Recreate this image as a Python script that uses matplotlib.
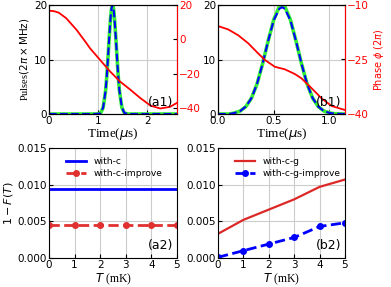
import matplotlib
matplotlib.use("Agg")
import matplotlib.pyplot as plt

plt.rcParams["font.size"] = 7.5
plt.rcParams["font.serif"] = ["Liberation Serif", "DejaVu Serif"]
plt.rcParams["mathtext.fontset"] = "dejavusans"

# (a1) pulse (left axis) and phase (right axis)
a1_t = [0, 0.9, 1.0, 1.05, 1.1, 1.15, 1.175, 1.2, 1.22, 1.25, 1.27, 1.29,
        1.31, 1.33, 1.36, 1.38, 1.405, 1.43, 1.48, 1.53, 1.6, 2.6]
a1_pulse = [0, 0, 0.03, 0.2, 1.2, 4.3, 7.1, 10.6, 13.6, 17.6, 19.4, 20,
            19.4, 17.6, 13.6, 10.6, 7.1, 4.3, 1.2, 0.2, 0, 0]
a1_phase_t = [0, 0.1, 0.2, 0.35, 0.56, 0.76, 0.83, 1.035, 1.24, 1.44,
              1.65, 1.85, 2.06, 2.26, 2.46, 2.6]
a1_phase = [16.7, 16.4, 15.5, 12.3, 5.5, -2.2, -5.1, -11.9, -18.7, -24.5,
            -29.3, -34.1, -38.6, -40.3, -39.3, -37.0]

# (b1)
b1_t = [0, 0.1, 0.15, 0.2, 0.25, 0.3, 0.35, 0.4, 0.45, 0.5, 0.55, 0.575,
        0.6, 0.65, 0.7, 0.75, 0.8, 0.85, 0.9, 0.95, 1.0, 1.05, 1.14]
b1_target = [0, 0, 0.2, 0.55, 1.36, 2.9, 5.5, 9.2, 13.4, 17.3, 19.7, 20,
             19.7, 17.3, 13.4, 9.2, 5.5, 2.9, 1.36, 0.55, 0.2, 0.05, 0]
b1_pulse = [0, 0, 0.2, 0.55, 1.36, 2.9, 5.5, 9.2, 13.4, 17.2, 19.3, 19.6,
            19.3, 17.2, 13.4, 9.2, 5.5, 2.9, 1.36, 0.55, 0.2, 0.05, 0]
b1_phase_t = [0, 0.09, 0.18, 0.27, 0.36, 0.42, 0.51, 0.60, 0.69, 0.75,
              0.84, 0.93, 1.02, 1.14]
b1_phase = [-15.8, -16.7, -18.3, -20.5, -23.3, -25.1, -27.0, -27.7, -29.0,
            -30.2, -32.9, -35.7, -37.8, -38.9]

# (a2), (b2) infidelity vs temperature
temp = [0, 1, 2, 3, 4, 5]
a2_c = [0.0094, 0.0094, 0.0094, 0.0094, 0.0094, 0.0094]
a2_c_improve = [0.00455, 0.00455, 0.00455, 0.00455, 0.00455, 0.00455]
b2_cg = [0.0033, 0.0052, 0.0066, 0.0080, 0.0097, 0.0107]
b2_cg_improve = [0.0001, 0.0010, 0.0019, 0.0028, 0.0043, 0.0048]

W, H = 391, 287
fig = plt.figure(figsize=(W / 100, H / 100), dpi=100)


def box(x0, y0, x1, y1):
    return [x0 / W, 1 - y1 / H, (x1 - x0) / W, (y1 - y0) / H]


ax_a1 = fig.add_axes(box(49, 5, 177, 114))
ax_b1 = fig.add_axes(box(218, 5, 345, 114))
ax_a2 = fig.add_axes(box(49, 148, 177, 258))
ax_b2 = fig.add_axes(box(218, 148, 345, 258))

# --- top row ---
for ax, t, tgt, pul, pt, ph, xmax, rlim, rticks, lab in [
    (ax_a1, a1_t, a1_pulse, a1_pulse, a1_phase_t, a1_phase, 2.6, (-43.5, 20), [20, 0, -20, -40], "(a1)"),
    (ax_b1, b1_t, b1_target, b1_pulse, b1_phase_t, b1_phase, 1.14, (-40, -10), [-10, -25, -40], "(b1)"),
]:
    ax.grid(True, color="#cccccc", lw=0.8)
    ax.plot(t, tgt, color="#33ee33", lw=2.6)
    ax.plot(t, pul, color="#0000ff", lw=1.5, ls="--")
    ax.set_xlim(0, xmax)
    ax.set_ylim(0, 20)
    ax.set_yticks([0, 10, 20])
    ax.tick_params(direction="in", length=3, pad=1.5)
    ax.set_xlabel(r"Time($\mu$s)", family="serif", fontsize=9.5, labelpad=0)
    axr = ax.twinx()
    axr.plot(pt, ph, color="red", lw=1.3)
    axr.set_ylim(*rlim)
    axr.set_yticks(rticks)
    axr.tick_params(direction="in", length=3, labelcolor="red", pad=1.5)
    axr.spines["right"].set_color("red")
    axr.text(0.97, 0.05, lab, transform=axr.transAxes, ha="right", va="bottom", fontsize=9)

ax_b1.set_xticks([0, 0.5, 1.0])
ax_a1.set_xticks([0, 1, 2])
ax_a1.set_ylabel(r"Pulses$(2\pi\times\mathrm{MHz})$", family="serif", fontsize=7.5, labelpad=2)
fig.axes[-1].set_ylabel(r"Phase $\phi$ (2$\pi$)", color="red", fontsize=7, labelpad=2)

# --- bottom row ---
ax_a2.plot(temp, a2_c, color="#0000ff", lw=2, label="with-c")
ax_a2.plot(temp, a2_c_improve, color="#e03030", lw=2, ls="--", marker="o", ms=4,
           label="with-c-improve")
ax_b2.plot(temp, b2_cg, color="#dd2828", lw=1.6, label="with-c-g")
ax_b2.plot(temp, b2_cg_improve, color="#0000ff", lw=2, ls="--", marker="o", ms=4,
           label="with-c-g-improve")

for ax, lab in [(ax_a2, "(a2)"), (ax_b2, "(b2)")]:
    ax.grid(True, color="#cccccc", lw=0.8)
    ax.set_xlim(0, 5)
    ax.set_ylim(0, 0.015)
    ax.set_xticks(temp)
    ax.set_yticks([0, 0.005, 0.010, 0.015])
    ax.set_yticklabels(["0.000", "0.005", "0.010", "0.015"])
    ax.tick_params(direction="in", length=3, pad=1.5)
    ax.set_xlabel(r"$T$ (mK)", family="serif", fontsize=8.5, labelpad=1)
    ax.legend(loc="upper left", bbox_to_anchor=(0.06, 1.0), frameon=False, fontsize=6.6,
              handlelength=2.2, borderaxespad=0.6, labelspacing=0.35)
    ax.text(0.97, 0.05, lab, transform=ax.transAxes, ha="right", va="bottom", fontsize=9)

ax_a2.set_ylabel(r"$1-F(T)$", fontsize=8, labelpad=2)

fig.savefig("out.png", dpi=100)
